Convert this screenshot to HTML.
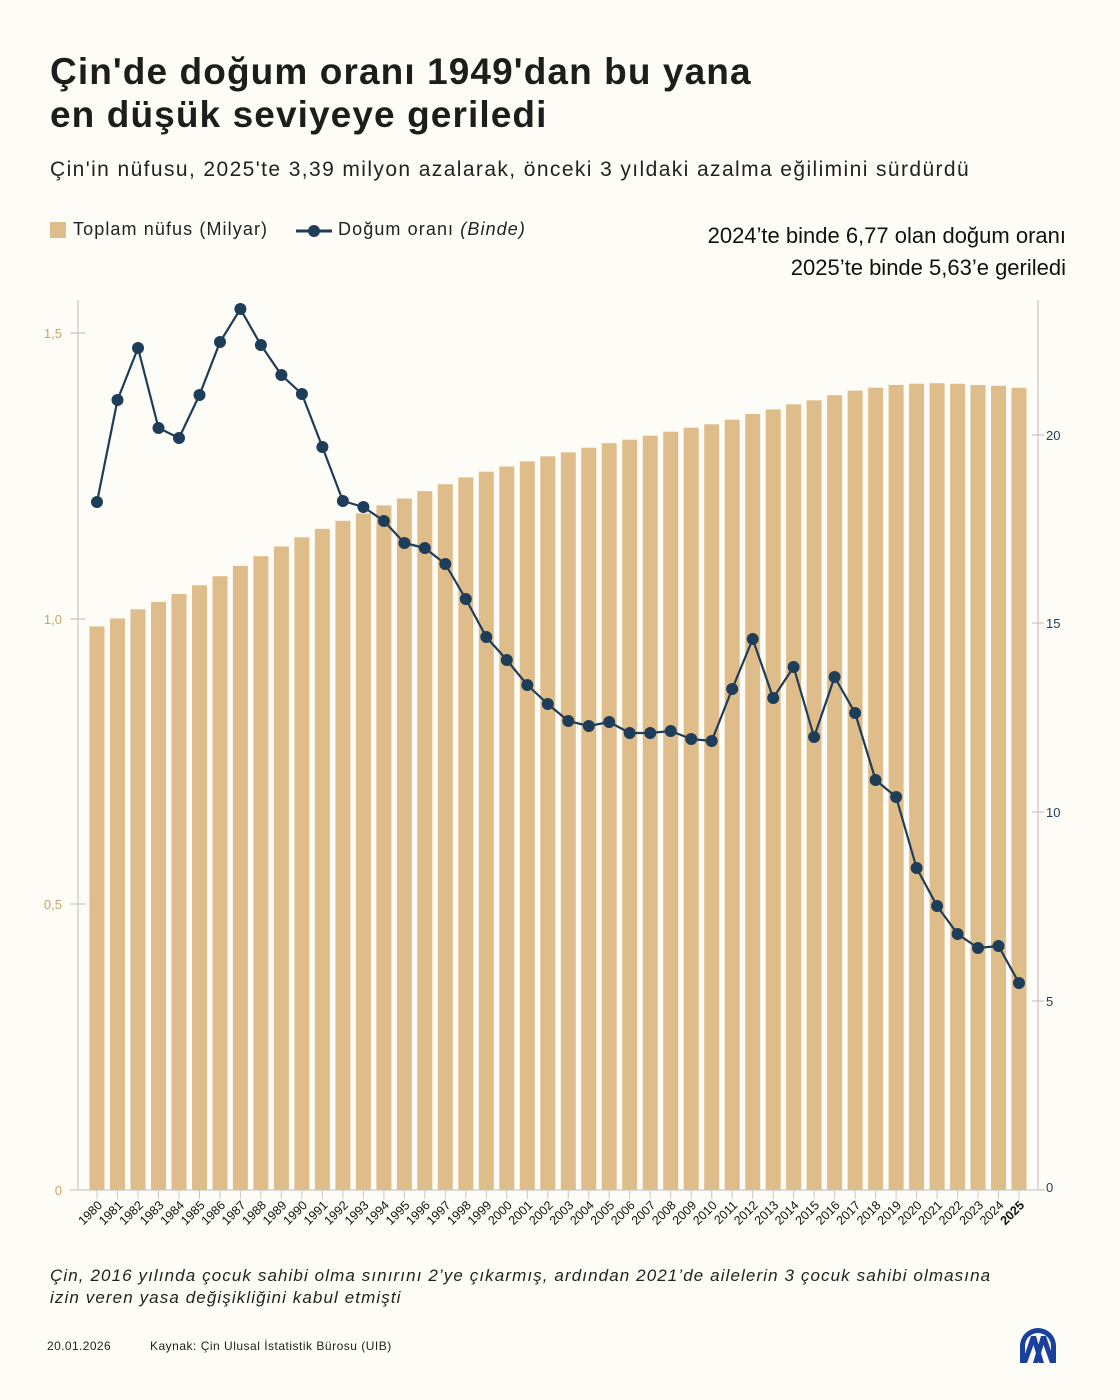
<!DOCTYPE html>
<html><head><meta charset="utf-8"><style>
body{margin:0;background:#fdfcf6;}
.wrap{position:relative;width:1120px;height:1400px;background:#fdfcf6;font-family:"Liberation Sans","DejaVu Sans",sans-serif;color:#1a1a1a;overflow:hidden}
.t{position:absolute;white-space:nowrap}
</style></head><body><div class="wrap">
<div class="t" style="left:50px;top:50px;font-size:37px;letter-spacing:1.1px;font-weight:bold;line-height:43px;color:#1d1d1b">Çin'de doğum oranı 1949'dan bu yana<br>en düşük seviyeye geriledi</div>
<div class="t" style="left:50px;top:158px;font-size:21px;letter-spacing:1.4px;color:#222">Çin'in nüfusu, 2025'te 3,39 milyon azalarak, önceki 3 yıldaki azalma eğilimini sürdürdü</div>
<div class="t" style="left:50px;top:222px;width:16px;height:16px;background:#dfbd8b"></div>
<div class="t" style="left:73px;top:219px;font-size:18px;letter-spacing:1.1px;color:#222">Toplam nüfus (Milyar)</div>
<svg class="t" style="left:295px;top:222px" width="40" height="20"><line x1="1" y1="9" x2="37" y2="9" stroke="#1e3d58" stroke-width="3"/><circle cx="19" cy="9" r="6" fill="#1e3d58"/></svg>
<div class="t" style="left:338px;top:219px;font-size:18px;letter-spacing:1.1px;color:#222">Doğum oranı <i>(Binde)</i></div>
<div class="t" style="right:54px;top:220px;font-size:22px;line-height:32px;text-align:right;color:#111">2024’te binde 6,77 olan doğum oranı<br>2025’te binde 5,63’e geriledi</div>

<svg class="t" style="left:0;top:0" width="1120" height="1400">
<g stroke="#c8c8c8" stroke-width="1.2" fill="none">
<line x1="78" y1="300" x2="78" y2="1190"/>
<line x1="1038" y1="300" x2="1038" y2="1190"/>
<line x1="70" y1="1190" x2="1045" y2="1190"/>
<line x1="70" y1="333" x2="86" y2="333"/><line x1="70" y1="619" x2="86" y2="619"/><line x1="70" y1="904" x2="86" y2="904"/>
<line x1="1032" y1="435" x2="1044" y2="435"/><line x1="1032" y1="623" x2="1044" y2="623"/><line x1="1032" y1="812" x2="1044" y2="812"/><line x1="1032" y1="1001" x2="1044" y2="1001"/>
</g>
<g font-size="13" fill="#c8a46a" text-anchor="end">
<text x="62" y="338">1,5</text><text x="62" y="624">1,0</text><text x="62" y="909">0,5</text><text x="62" y="1195">0</text>
</g>
<g font-size="13" fill="#1e3d58">
<text x="1046" y="440">20</text><text x="1046" y="628">15</text><text x="1046" y="817">10</text><text x="1046" y="1006">5</text><text x="1046" y="1192">0</text>
</g>
<g fill="#dfbd8b">
<rect x="89.5" y="626.4" width="15" height="563.6"/>
<rect x="110" y="618.4" width="15" height="571.6"/>
<rect x="130.5" y="609.3" width="15" height="580.7"/>
<rect x="151" y="601.9" width="15" height="588.1"/>
<rect x="171.5" y="593.9" width="15" height="596.1"/>
<rect x="192" y="585.3" width="15" height="604.7"/>
<rect x="212.5" y="576.2" width="15" height="613.8"/>
<rect x="232.9" y="565.9" width="15" height="624.1"/>
<rect x="253.4" y="556.2" width="15" height="633.8"/>
<rect x="273.9" y="546.5" width="15" height="643.5"/>
<rect x="294.4" y="537.3" width="15" height="652.7"/>
<rect x="314.9" y="528.8" width="15" height="661.2"/>
<rect x="335.4" y="520.8" width="15" height="669.2"/>
<rect x="355.9" y="513.4" width="15" height="676.6"/>
<rect x="376.4" y="505.4" width="15" height="684.6"/>
<rect x="396.9" y="498.5" width="15" height="691.5"/>
<rect x="417.3" y="491.1" width="15" height="698.9"/>
<rect x="437.8" y="484.2" width="15" height="705.8"/>
<rect x="458.3" y="477.4" width="15" height="712.6"/>
<rect x="478.8" y="471.7" width="15" height="718.3"/>
<rect x="499.3" y="466.5" width="15" height="723.5"/>
<rect x="519.8" y="461.4" width="15" height="728.6"/>
<rect x="540.3" y="456.3" width="15" height="733.7"/>
<rect x="560.8" y="452.3" width="15" height="737.7"/>
<rect x="581.3" y="447.7" width="15" height="742.3"/>
<rect x="601.7" y="443.1" width="15" height="746.9"/>
<rect x="622.2" y="439.7" width="15" height="750.3"/>
<rect x="642.7" y="435.7" width="15" height="754.3"/>
<rect x="663.2" y="431.7" width="15" height="758.3"/>
<rect x="683.7" y="427.7" width="15" height="762.3"/>
<rect x="704.2" y="424.3" width="15" height="765.7"/>
<rect x="724.7" y="419.7" width="15" height="770.3"/>
<rect x="745.2" y="414" width="15" height="776"/>
<rect x="765.7" y="409.4" width="15" height="780.6"/>
<rect x="786.1" y="404.3" width="15" height="785.7"/>
<rect x="806.6" y="400.3" width="15" height="789.7"/>
<rect x="827.1" y="395.2" width="15" height="794.8"/>
<rect x="847.6" y="390.6" width="15" height="799.4"/>
<rect x="868.1" y="387.7" width="15" height="802.3"/>
<rect x="888.6" y="384.9" width="15" height="805.1"/>
<rect x="909.1" y="383.7" width="15" height="806.3"/>
<rect x="929.6" y="383.2" width="15" height="806.8"/>
<rect x="950.1" y="383.8" width="15" height="806.2"/>
<rect x="970.5" y="385" width="15" height="805"/>
<rect x="991" y="385.8" width="15" height="804.2"/>
<rect x="1011.5" y="387.8" width="15" height="802.2"/>
</g>
<g stroke="#c8c8c8" stroke-width="1">
<path d="M97 1190v9M117.5 1190v9M138 1190v9M158.5 1190v9M179 1190v9M199.5 1190v9M220 1190v9M240.4 1190v9M260.9 1190v9M281.4 1190v9M301.9 1190v9M322.4 1190v9M342.9 1190v9M363.4 1190v9M383.9 1190v9M404.4 1190v9M424.8 1190v9M445.3 1190v9M465.8 1190v9M486.3 1190v9M506.8 1190v9M527.3 1190v9M547.8 1190v9M568.3 1190v9M588.8 1190v9M609.2 1190v9M629.7 1190v9M650.2 1190v9M670.7 1190v9M691.2 1190v9M711.7 1190v9M732.2 1190v9M752.7 1190v9M773.2 1190v9M793.6 1190v9M814.1 1190v9M834.6 1190v9M855.1 1190v9M875.6 1190v9M896.1 1190v9M916.6 1190v9M937.1 1190v9M957.6 1190v9M978 1190v9M998.5 1190v9M1019 1190v9"/>
</g>
<polyline fill="none" stroke="#1e3d58" stroke-width="2.2" stroke-linejoin="round" points="97,502 117.5,400 138,348 158.5,428 179,438 199.5,395 220,342 240.4,309 260.9,345 281.4,375 301.9,394 322.4,447 342.9,501 363.4,507 383.9,521 404.4,543 424.8,548 445.3,564 465.8,599 486.3,637 506.8,660 527.3,685 547.8,704 568.3,721 588.8,726 609.2,722 629.7,733 650.2,733 670.7,731 691.2,739 711.7,741 732.2,689 752.7,639 773.2,698 793.6,667 814.1,737 834.6,677 855.1,713 875.6,780 896.1,797 916.6,868 937.1,906 957.6,934 978,948 998.5,946 1019,983"/>
<g fill="#1e3d58">
<circle cx="97" cy="502" r="6"/><circle cx="117.5" cy="400" r="6"/><circle cx="138" cy="348" r="6"/><circle cx="158.5" cy="428" r="6"/><circle cx="179" cy="438" r="6"/><circle cx="199.5" cy="395" r="6"/><circle cx="220" cy="342" r="6"/><circle cx="240.4" cy="309" r="6"/><circle cx="260.9" cy="345" r="6"/><circle cx="281.4" cy="375" r="6"/><circle cx="301.9" cy="394" r="6"/><circle cx="322.4" cy="447" r="6"/><circle cx="342.9" cy="501" r="6"/><circle cx="363.4" cy="507" r="6"/><circle cx="383.9" cy="521" r="6"/><circle cx="404.4" cy="543" r="6"/><circle cx="424.8" cy="548" r="6"/><circle cx="445.3" cy="564" r="6"/><circle cx="465.8" cy="599" r="6"/><circle cx="486.3" cy="637" r="6"/><circle cx="506.8" cy="660" r="6"/><circle cx="527.3" cy="685" r="6"/><circle cx="547.8" cy="704" r="6"/><circle cx="568.3" cy="721" r="6"/><circle cx="588.8" cy="726" r="6"/><circle cx="609.2" cy="722" r="6"/><circle cx="629.7" cy="733" r="6"/><circle cx="650.2" cy="733" r="6"/><circle cx="670.7" cy="731" r="6"/><circle cx="691.2" cy="739" r="6"/><circle cx="711.7" cy="741" r="6"/><circle cx="732.2" cy="689" r="6"/><circle cx="752.7" cy="639" r="6"/><circle cx="773.2" cy="698" r="6"/><circle cx="793.6" cy="667" r="6"/><circle cx="814.1" cy="737" r="6"/><circle cx="834.6" cy="677" r="6"/><circle cx="855.1" cy="713" r="6"/><circle cx="875.6" cy="780" r="6"/><circle cx="896.1" cy="797" r="6"/><circle cx="916.6" cy="868" r="6"/><circle cx="937.1" cy="906" r="6"/><circle cx="957.6" cy="934" r="6"/><circle cx="978" cy="948" r="6"/><circle cx="998.5" cy="946" r="6"/><circle cx="1019" cy="983" r="6"/>
</g>
<g font-size="12.5" fill="#111" text-anchor="end">
<text transform="translate(103,1206) rotate(-45)">1980</text>
<text transform="translate(123.5,1206) rotate(-45)">1981</text>
<text transform="translate(144,1206) rotate(-45)">1982</text>
<text transform="translate(164.5,1206) rotate(-45)">1983</text>
<text transform="translate(185,1206) rotate(-45)">1984</text>
<text transform="translate(205.5,1206) rotate(-45)">1985</text>
<text transform="translate(226,1206) rotate(-45)">1986</text>
<text transform="translate(246.4,1206) rotate(-45)">1987</text>
<text transform="translate(266.9,1206) rotate(-45)">1988</text>
<text transform="translate(287.4,1206) rotate(-45)">1989</text>
<text transform="translate(307.9,1206) rotate(-45)">1990</text>
<text transform="translate(328.4,1206) rotate(-45)">1991</text>
<text transform="translate(348.9,1206) rotate(-45)">1992</text>
<text transform="translate(369.4,1206) rotate(-45)">1993</text>
<text transform="translate(389.9,1206) rotate(-45)">1994</text>
<text transform="translate(410.4,1206) rotate(-45)">1995</text>
<text transform="translate(430.8,1206) rotate(-45)">1996</text>
<text transform="translate(451.3,1206) rotate(-45)">1997</text>
<text transform="translate(471.8,1206) rotate(-45)">1998</text>
<text transform="translate(492.3,1206) rotate(-45)">1999</text>
<text transform="translate(512.8,1206) rotate(-45)">2000</text>
<text transform="translate(533.3,1206) rotate(-45)">2001</text>
<text transform="translate(553.8,1206) rotate(-45)">2002</text>
<text transform="translate(574.3,1206) rotate(-45)">2003</text>
<text transform="translate(594.8,1206) rotate(-45)">2004</text>
<text transform="translate(615.2,1206) rotate(-45)">2005</text>
<text transform="translate(635.7,1206) rotate(-45)">2006</text>
<text transform="translate(656.2,1206) rotate(-45)">2007</text>
<text transform="translate(676.7,1206) rotate(-45)">2008</text>
<text transform="translate(697.2,1206) rotate(-45)">2009</text>
<text transform="translate(717.7,1206) rotate(-45)">2010</text>
<text transform="translate(738.2,1206) rotate(-45)">2011</text>
<text transform="translate(758.7,1206) rotate(-45)">2012</text>
<text transform="translate(779.2,1206) rotate(-45)">2013</text>
<text transform="translate(799.6,1206) rotate(-45)">2014</text>
<text transform="translate(820.1,1206) rotate(-45)">2015</text>
<text transform="translate(840.6,1206) rotate(-45)">2016</text>
<text transform="translate(861.1,1206) rotate(-45)">2017</text>
<text transform="translate(881.6,1206) rotate(-45)">2018</text>
<text transform="translate(902.1,1206) rotate(-45)">2019</text>
<text transform="translate(922.6,1206) rotate(-45)">2020</text>
<text transform="translate(943.1,1206) rotate(-45)">2021</text>
<text transform="translate(963.6,1206) rotate(-45)">2022</text>
<text transform="translate(984,1206) rotate(-45)">2023</text>
<text transform="translate(1004.5,1206) rotate(-45)">2024</text>
<text transform="translate(1025,1206) rotate(-45)" font-weight="bold">2025</text>
</g>
<g fill="#1a3f9c">
<path d="M1038 1328 A18 18 0 0 1 1056 1346 L1056 1363 L1051 1363 L1051 1346 A13 13 0 0 0 1025 1346 L1025 1363 L1020 1363 L1020 1346 A18 18 0 0 1 1038 1328 Z"/>
<path d="M1022 1363 L1031 1336 L1036 1336 L1044 1363 L1039 1363 L1033.5 1345 L1027 1363 Z"/>
<path d="M1033 1363 L1041 1336 L1046 1336 L1055 1363 L1050 1363 L1043.5 1345 L1038 1363 Z"/>
</g>
</svg>

<div class="t" style="left:50px;top:1265px;font-size:17px;letter-spacing:1.1px;line-height:22px;font-style:italic;color:#222">Çin, 2016 yılında çocuk sahibi olma sınırını 2’ye çıkarmış, ardından 2021’de ailelerin 3 çocuk sahibi olmasına<br>izin veren yasa değişikliğini kabul etmişti</div>
<div class="t" style="left:47px;top:1339px;font-size:12px;letter-spacing:0.4px;color:#222">20.01.2026</div>
<div class="t" style="left:150px;top:1339px;font-size:12px;letter-spacing:0.5px;color:#222">Kaynak: Çin Ulusal İstatistik Bürosu (UIB)</div>
</div></body></html>
